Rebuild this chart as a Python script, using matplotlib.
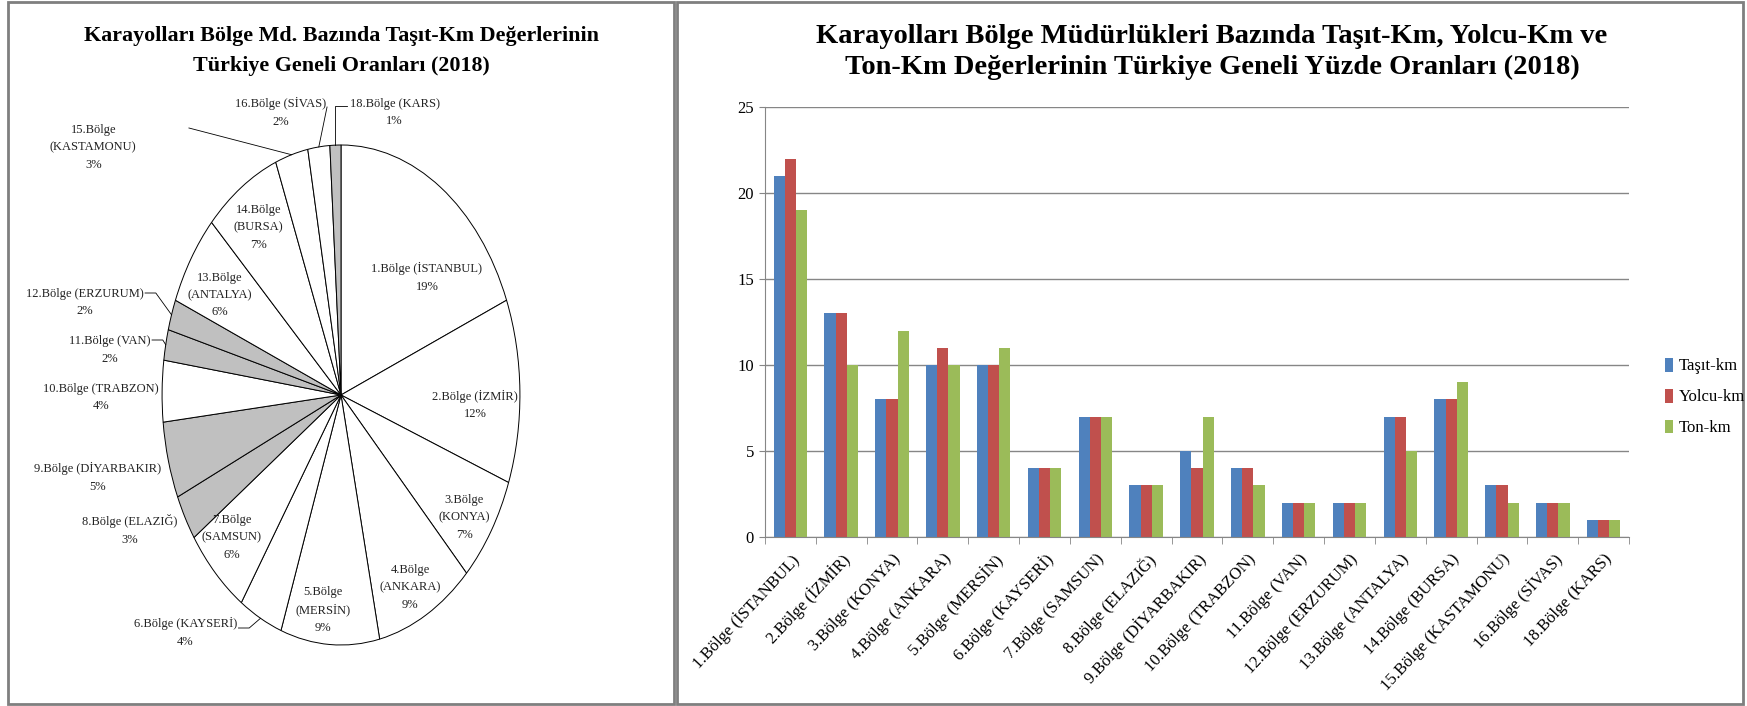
import numpy as np
import matplotlib.pyplot as plt
from matplotlib.patches import Rectangle

plt.rcParams['font.family'] = ['Liberation Serif', 'DejaVu Serif']

# veriler (2018)
bolge_no = [1, 2, 3, 4, 5, 6, 7, 8, 9, 10, 11, 12, 13, 14, 15, 16, 18]
bolge_adi = ['İSTANBUL', 'İZMİR', 'KONYA', 'ANKARA', 'MERSİN', 'KAYSERİ', 'SAMSUN',
             'ELAZIĞ', 'DİYARBAKIR', 'TRABZON', 'VAN', 'ERZURUM', 'ANTALYA',
             'BURSA', 'KASTAMONU', 'SİVAS', 'KARS']
pasta_pay = [19, 12, 7, 9, 9, 4, 6, 3, 5, 4, 2, 2, 6, 7, 3, 2, 1]
tasit_km = [21, 13, 8, 10, 10, 4, 7, 3, 5, 4, 2, 2, 7, 8, 3, 2, 1]
yolcu_km = [22, 13, 8, 11, 10, 4, 7, 3, 4, 4, 2, 2, 7, 8, 3, 2, 1]
ton_km = [19, 10, 12, 10, 11, 4, 7, 3, 7, 3, 2, 2, 5, 9, 2, 2, 1]

gri_bolgeler = [8, 9, 11, 12, 18]
uc_satir = [3, 4, 5, 7, 13, 14, 15]

# etiket yerleri (pasta birim koordinatları)
etiket_yer = [(0.48, 0.47), (0.75, -0.04), (0.69, -0.49), (0.385, -0.77), (-0.10, -0.86),
              (-0.87, -0.95), (-0.61, -0.57), (-1.18, -0.54), (-1.36, -0.33), (-1.34, -0.01),
              (-1.29, 0.18), (-1.43, 0.37), (-0.68, 0.40), (-0.46, 0.67), (-1.385, 0.99),
              (-0.335, 1.13), (0.30, 1.13)]
# kılavuz çizgileri: bölge -> (başlangıç, dirsek tipi)
kilavuz = {6: ((-0.573, -0.932), 'yatay'), 11: ((-1.056, 0.22), 'yatay'),
           12: ((-1.095, 0.408), 'yatay'), 15: ((-0.85, 1.068), None),
           16: ((-0.078, 1.152), None), 18: ((0.034, 1.156), 'dik')}

fig = plt.figure(figsize=(17.47, 7.06), dpi=100)
W, H = 1747, 706

# panel çerçeveleri
for x0, x1 in [(8, 674), (677, 1743)]:
    fig.patches.append(Rectangle((x0 / W, 2 / H), (x1 - x0) / W, (702) / H,
                                 transform=fig.transFigure, fill=False,
                                 edgecolor='#7f7f7f', linewidth=2))

# ---- pasta grafiği ----
ax1 = fig.add_axes([10 / W, 11 / H, 662 / W, 637.5 / H])
renkler = ['#c0c0c0' if n in gri_bolgeler else 'white' for n in bolge_no]
wedges, _ = ax1.pie(pasta_pay, startangle=90, counterclock=False, colors=renkler,
                    wedgeprops=dict(edgecolor='black', linewidth=0.7))
ax1.set_aspect('auto')
ax1.set_xlim(-1.85, 1.85)
ax1.set_ylim(-1.2, 1.35)
ax1.axis('off')

for i, (n, ad, p) in enumerate(zip(bolge_no, bolge_adi, pasta_pay)):
    if n in uc_satir:
        txt = f'{n}.Bölge\n({ad})\n{p}%'
    else:
        txt = f'{n}.Bölge ({ad})\n{p}%'
    ax1.text(*etiket_yer[i], txt, ha='center', va='center', fontsize=9,
             linespacing=1.6, color='#222222')
    if n in kilavuz:
        (sx, sy), tip = kilavuz[n]
        aci = np.deg2rad((wedges[i].theta1 + wedges[i].theta2) / 2)
        ex, ey = np.cos(aci), np.sin(aci)
        xs, ys = [sx], [sy]
        if tip == 'yatay':
            xs.append(sx + 0.06)
            ys.append(sy)
        elif tip == 'dik':
            xs.append(ex)
            ys.append(sy)
        xs.append(ex)
        ys.append(ey)
        ax1.plot(xs, ys, color='black', lw=0.6)

fig.text(341 / W, 1 - 51 / H,
         'Karayolları Bölge Md. Bazında Taşıt-Km Değerlerinin\nTürkiye Geneli Oranları (2018)',
         ha='center', va='center', fontsize=15.8, fontweight='bold', linespacing=1.6)

# ---- sütun grafiği ----
ax2 = fig.add_axes([765 / W, (H - 537) / H, 864 / W, 430 / H])
x = np.arange(len(bolge_no))
w = 0.22
ax2.bar(x - w, tasit_km, w, color='#4F81BD', label='Taşıt-km')
ax2.bar(x, yolcu_km, w, color='#C0504D', label='Yolcu-km')
ax2.bar(x + w, ton_km, w, color='#9BBB59', label='Ton-km')

ax2.set_xlim(-0.5, len(x) - 0.5)
ax2.set_ylim(0, 25)
ax2.set_yticks(range(0, 26, 5))
ax2.yaxis.grid(True, color='#868686', lw=1)
ax2.set_axisbelow(True)
for s in ['top', 'right']:
    ax2.spines[s].set_visible(False)
for s in ['left', 'bottom']:
    ax2.spines[s].set_color('#868686')
ax2.tick_params(axis='y', length=4, color='#868686', labelsize=12, pad=4)

etiketler = [f'{n}.Bölge ({ad})' for n, ad in zip(bolge_no, bolge_adi)]
ax2.set_xticks(x, etiketler, rotation=47, ha='right', rotation_mode='anchor', fontsize=12)
ax2.tick_params(axis='x', which='major', length=0, pad=10)
ax2.set_xticks(np.arange(-0.5, len(x)), minor=True)
ax2.tick_params(axis='x', which='minor', length=5, color='#868686')

fig.text(1212 / W, 1 - 52 / H,
         'Karayolları Bölge Müdürlükleri Bazında Taşıt-Km, Yolcu-Km ve\n'
         'Ton-Km Değerlerinin Türkiye Geneli Yüzde Oranları (2018)',
         ha='center', va='center', fontsize=20.5, fontweight='bold', linespacing=1.35)

h, l = ax2.get_legend_handles_labels()
fig.legend(h, l, loc='center left', bbox_to_anchor=(1650 / W, 1 - 397 / H), frameon=False,
           fontsize=12, handlelength=0.5, handleheight=0.9, labelspacing=0.85,
           handletextpad=0.3)

fig.savefig('out.png', dpi=100)
